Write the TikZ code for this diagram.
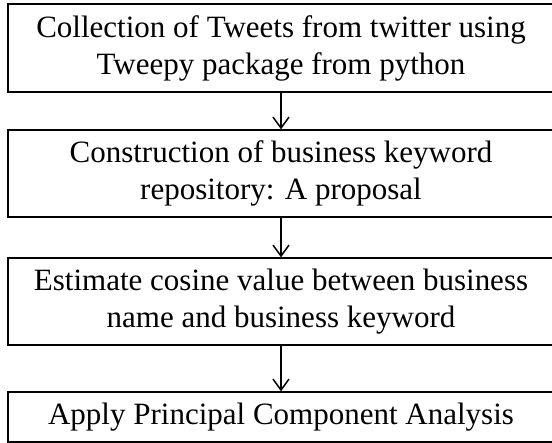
\documentclass[tikz,border=0pt]{standalone}
\usepackage{fontspec}
\setmainfont{Liberation Serif}
\usetikzlibrary{arrows.meta}
\begin{document}
\begin{tikzpicture}[x=1pt,y=-1pt,
  box/.style={draw=black,line width=1.3pt,minimum width=546pt,inner sep=0pt,align=center,
    font=\fontsize{31}{37}\selectfont},
  flow/.style={line width=1.3pt,-{Straight Barb[length=11pt,width=16pt,line width=1.5pt]}}]
\useasboundingbox (0,0) rectangle (552,443);
\node[box,minimum height=88pt] (b1) at (281,48) {Collection of Tweets from twitter using\\Tweepy package from python};
\node[box,minimum height=87pt] (b2) at (281,173.5) {Construction of business keyword\\repository: A proposal};
\node[box,minimum height=87pt] (b3) at (281,301.5) {Estimate cosine value between business\\name and business keyword};
\node[box,minimum height=50pt] (b4) at (281,417) {Apply Principal Component Analysis};
\draw[flow] (b1) -- (b2);
\draw[flow] (b2) -- (b3);
\draw[flow] (b3) -- (b4);
\end{tikzpicture}
\end{document}
